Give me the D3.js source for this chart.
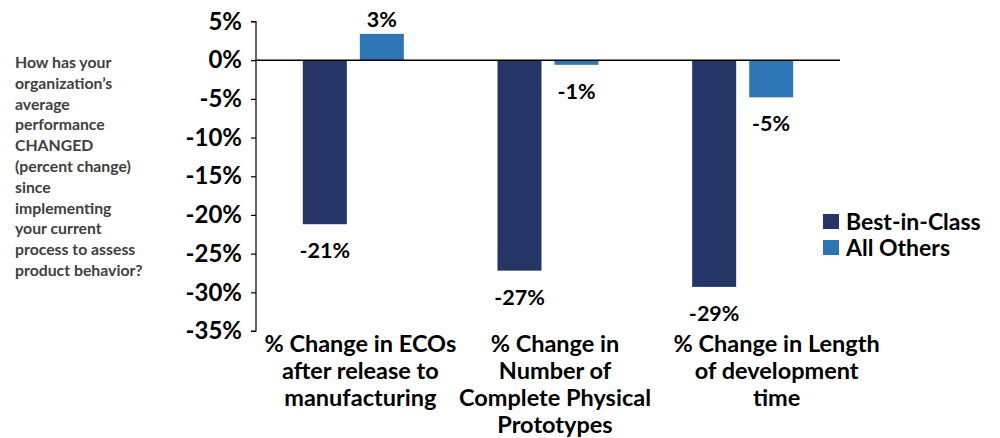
<!DOCTYPE html>
<html>
<head>
<meta charset="utf-8">
<script src="https://cdn.jsdelivr.net/npm/d3@7"></script>
<style>
  body { margin: 0; background: #fff; }
  svg text { font-family: Lato, "Open Sans", sans-serif; font-weight: bold; }
</style>
</head>
<body>
<div id="chart"></div>
<script>
// chart data
const categories = [
    ["% Change in ECOs", "after release to", "manufacturing"],
    ["% Change in", "Number of", "Complete Physical", "Prototypes"],
    ["% Change in Length", "of development", "time"]
];
const series = ["Best-in-Class", "All Others"];
const bestInClass = [-21.2, -27.2, -29.3];
const allOthers = [3.4, -0.6, -4.8];
const yTicks = [5, 0, -5, -10, -15, -20, -25, -30, -35];
const question = ["How has your", "organization\u2019s", "average", "performance", "CHANGED",
    "(percent change)", "since", "implementing", "your current", "process to assess", "product behavior?"];

const colors = {"Best-in-Class": "#253566", "All Others": "#2E75B6"};

const width = 1000, height = 438;
const svg = d3.select("#chart").append("svg")
    .attr("width", width)
    .attr("height", height);

const yScale = d3.scaleLinear()
    .domain([-35, 5])
    .range([331, 21.5]);

const xScale = d3.scaleBand()
    .domain(d3.range(categories.length))
    .range([256, 840])
    .padding(0);

// two bars of 44px with a 13px gap, centred in each band
const pairW = 101;
const xSub = d3.scaleBand()
    .domain(series)
    .range([(xScale.bandwidth() - pairW) / 2, (xScale.bandwidth() + pairW) / 2])
    .paddingInner(13 / 57)
    .paddingOuter(0);

// y axis
const yAxis = d3.axisLeft(yScale)
    .tickValues(yTicks)
    .tickSize(5)
    .tickPadding(9)
    .tickFormat(d => d + "%");
const yAxisG = svg.append("g")
    .attr("transform", "translate(256,0)")
    .call(yAxis);
yAxisG.select(".domain").attr("stroke", "#000").attr("stroke-width", 1.2)
    .attr("d", `M-5,${yScale(5)}H0V${yScale(-35)}H-5`);
yAxisG.selectAll(".tick line").attr("stroke", "#000").attr("stroke-width", 1.2);
yAxisG.selectAll(".tick text")
    .attr("fill", "#000")
    .style("font-size", "24px")
    .style("font-family", "Lato, sans-serif")
    .style("font-weight", "bold");

// bars
const rows = categories.map((c, i) => ({i: i, values: [
    {key: series[0], value: bestInClass[i]},
    {key: series[1], value: allOthers[i]}
]}));

const groups = svg.selectAll(".group")
    .data(rows)
    .enter()
    .append("g")
    .attr("class", "group")
    .attr("transform", d => "translate(" + xScale(d.i) + ",0)");

groups.selectAll(".bar")
    .data(d => d.values)
    .enter()
    .append("rect")
    .attr("class", "bar")
    .attr("x", d => xSub(d.key))
    .attr("y", d => yScale(Math.max(0, d.value)))
    .attr("width", xSub.bandwidth())
    .attr("height", d => Math.abs(yScale(d.value) - yScale(0)))
    .attr("fill", d => colors[d.key]);

groups.selectAll(".val")
    .data(d => d.values)
    .enter()
    .append("text")
    .attr("class", "val")
    .attr("text-anchor", "middle")
    .attr("x", d => xSub(d.key) + xSub.bandwidth() / 2)
    .attr("y", d => d.value >= 0 ? yScale(d.value) - 7 : yScale(d.value) + 34)
    .style("font-size", "21.5px")
    .attr("fill", "#000")
    .text(d => Math.round(d.value) + "%");

// zero line
svg.append("line")
    .attr("x1", 256).attr("x2", 840)
    .attr("y1", yScale(0)).attr("y2", yScale(0))
    .attr("stroke", "#000")
    .attr("stroke-width", 1.5);

// category labels
const labelShift = [7, 7, 34];
svg.selectAll(".cat")
    .data(categories)
    .enter()
    .append("text")
    .attr("class", "cat")
    .attr("text-anchor", "middle")
    .attr("x", (d, i) => xScale(i) + xScale.bandwidth() / 2 + labelShift[i])
    .attr("y", 352)
    .style("font-size", "23.5px")
    .attr("fill", "#000")
    .selectAll("tspan")
    .data(d => d)
    .enter()
    .append("tspan")
    .attr("x", function() { return this.parentNode.getAttribute("x"); })
    .attr("dy", (d, i) => i === 0 ? 0 : 27)
    .text(d => d);

// question text
svg.append("text")
    .attr("x", 15)
    .attr("y", 68)
    .style("font-size", "15.8px")
    .attr("fill", "#404040")
    .selectAll("tspan")
    .data(question)
    .enter()
    .append("tspan")
    .attr("x", 15)
    .attr("dy", (d, i) => i === 0 ? 0 : 20.8)
    .text(d => d);

// legend
const legend = svg.append("g").attr("transform", "translate(823,214)");
series.forEach((s, i) => {
    legend.append("rect")
        .attr("x", 0).attr("y", i * 26)
        .attr("width", 16).attr("height", 15)
        .attr("fill", colors[s]);
    legend.append("text")
        .attr("x", 23).attr("y", i * 26 + 16)
        .style("font-size", "23px")
        .attr("fill", "#000")
        .text(s);
});
</script>
</body>
</html>
